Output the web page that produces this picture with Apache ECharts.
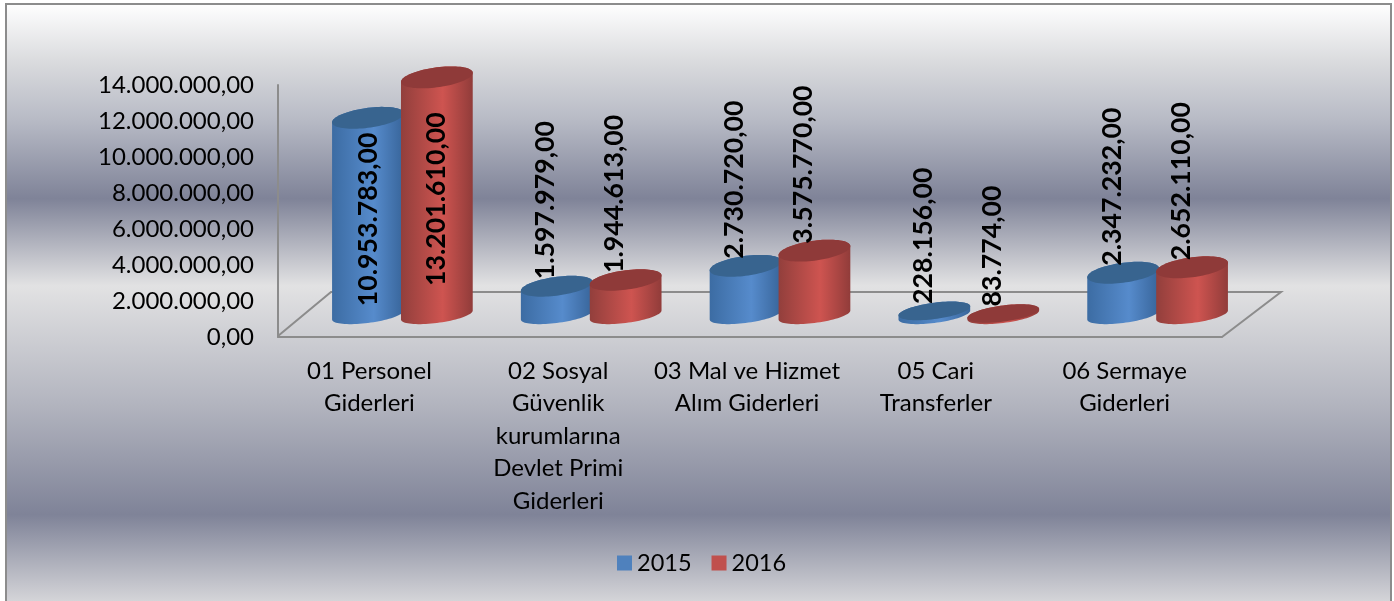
<!DOCTYPE html>
<html>
<head>
<meta charset="utf-8">
<style>
html, body { margin: 0; padding: 0; background: #fff; }
#chart { width: 1394px; height: 601px; }
</style>
<script src="https://cdn.jsdelivr.net/npm/echarts@6/dist/echarts.min.js"></script>
</head>
<body>
<div id="chart"></div>
<script>
var categories = ['01 Personel\nGiderleri', '02 Sosyal\nGüvenlik\nkurumlarına\nDevlet Primi\nGiderleri', '03 Mal ve Hizmet\nAlım Giderleri', '05 Cari\nTransferler', '06 Sermaye\nGiderleri'];
var values2015 = [10953783, 1597979, 2730720, 228156, 2347232];
var values2016 = [13201610, 1944613, 3575770, 83774, 2652110];
var valueLabels2015 = ['10.953.783,00', '1.597.979,00', '2.730.720,00', '228.156,00', '2.347.232,00'];
var valueLabels2016 = ['13.201.610,00', '1.944.613,00', '3.575.770,00', '83.774,00', '2.652.110,00'];
var yMax = 14000000;
var yStep = 2000000;

var fontName = 'Lato';
var chart = echarts.init(document.getElementById('chart'));

function formatTick(v){
	return String(v).replace(/\B(?=(\d{3})+$)/g, '.') + ',00';
}

// sheared ellipse edge, t in radians
function edge(cx, cy, rx, ry, tilt, t){
	return [cx + rx * Math.cos(t), cy + ry * Math.sin(t) - tilt * Math.cos(t)];
}

function sideFill(dark, light, darkRight){
	return new echarts.graphic.LinearGradient(0, 0, 1, 0, [
		{offset: 0, color: dark},
		{offset: 0.58, color: light},
		{offset: 1, color: darkRight}
	]);
}

function cylinderSeries(name, values, labels, side, colors){
	return {
		name: name,
		type: 'custom',
		coordinateSystem: 'cartesian2d',
		xAxisIndex: 1,
		yAxisIndex: 1,
		itemStyle: {color: colors.legend},
		encode: {x: 0, y: 1},
		data: values.map(function(v, i){ return [i, v]; }),
		z: side < 0 ? 3 : 4,
		renderItem: function(params, api){
			var i = api.value(0);
			var base = api.coord([i, 0]);
			var top = api.coord([i, api.value(1)]);
			var band = api.size([1, 0])[0];
			var cx = base[0] + side * band * 0.1825;
			var rx = band * 0.19;
			var tilt = 4.5;
			var h = base[1] - top[1];
			var ryBase = 8;
			var ryTop = Math.min(10, 8 + h / 20);
			var pts = [], t, n = 40;
			for (t = 0; t <= n; t++){
				pts.push(edge(cx, base[1], rx, ryBase, tilt, Math.PI * t / n));
			}
			for (t = 0; t <= n; t++){
				pts.push(edge(cx, top[1], rx, ryTop, tilt, Math.PI + Math.PI * t / n));
			}
			var cap = [];
			for (t = 0; t < n * 2; t++){
				cap.push(edge(cx, top[1], rx, ryTop, tilt, Math.PI * t / n));
			}
			// tall bars carry the label inside, short ones above the top
			var inside = h > 150;
			var lx = inside ? cx : cx - 11;
			var ly = inside ? (base[1] + top[1]) / 2 + 3 : top[1] - 7;
			return {
				type: 'group',
				children: [
					{type: 'polygon', shape: {points: pts}, style: {fill: sideFill(colors.dark, colors.light, colors.darkRight)}},
					{type: 'polygon', shape: {points: cap}, style: {fill: colors.cap}},
					{
						type: 'text',
						x: lx,
						y: ly,
						rotation: Math.PI / 2,
						style: {
							text: labels[i],
							font: 'bold 26.7px ' + fontName,
							fill: '#000',
							align: inside ? 'center' : 'left',
							verticalAlign: 'middle'
						},
						z2: 10
					}
				]
			};
		}
	};
}

var option = {
	animation: false,
	backgroundColor: '#fff',
	textStyle: {fontFamily: fontName},
	graphic: [
		{
			type: 'rect',
			z: -10,
			shape: {x: 6, y: 4, width: 1385, height: 600},
			style: {
				stroke: '#8c8c8c',
				lineWidth: 2,
				fill: new echarts.graphic.LinearGradient(0, 0, 0, 1, [
					{offset: 0, color: '#ffffff'},
					{offset: 0.1, color: '#d9dadd'},
					{offset: 0.195, color: '#b7bac5'},
					{offset: 0.325, color: '#7f8398'},
					{offset: 0.47, color: '#e2e2e3'},
					{offset: 0.66, color: '#b4b6c0'},
					{offset: 0.85, color: '#7f8398'},
					{offset: 1, color: '#d8d8db'}
				])
			}
		},
		{
			type: 'polyline',
			z: 1,
			shape: {points: [[278, 336], [331, 292], [1281, 292], [1222, 337]]},
			style: {stroke: '#8c8c8c', lineWidth: 2, fill: null}
		}
	],
	legend: {
		left: 617,
		top: 551,
		padding: 0,
		itemWidth: 15,
		itemHeight: 15,
		itemGap: 20,
		icon: 'rect',
		data: ['2015', '2016'],
		textStyle: {fontSize: 23.5, fontFamily: fontName, color: '#000'}
	},
	grid: [
		{left: 278, top: 85, width: 944, height: 252},
		{left: 308, top: 63, width: 944, height: 252}
	],
	xAxis: [
		{
			gridIndex: 0,
			type: 'category',
			data: categories,
			axisTick: {show: false},
			axisLine: {lineStyle: {color: '#8c8c8c', width: 2}},
			axisLabel: {interval: 0, margin: 18, fontSize: 24, lineHeight: 32.4, color: '#000', fontFamily: fontName, padding: [0, 6, 0, 0]}
		},
		{
			gridIndex: 1,
			type: 'category',
			data: categories,
			show: false
		}
	],
	yAxis: [
		{
			gridIndex: 0,
			type: 'value',
			min: 0,
			max: yMax,
			interval: yStep,
			splitLine: {show: false},
			axisTick: {show: false},
			axisLine: {show: true, lineStyle: {color: '#8c8c8c', width: 2}},
			axisLabel: {margin: 24, fontSize: 24, color: '#000', fontFamily: fontName, formatter: formatTick}
		},
		{
			gridIndex: 1,
			type: 'value',
			min: 0,
			max: yMax,
			interval: yStep,
			show: false
		}
	],
	series: [
		cylinderSeries('2015', values2015, valueLabels2015, -1, {dark: '#3c6ca3', light: '#568bcc', darkRight: '#38659a', cap: '#38648f', legend: '#4f81bd'}),
		cylinderSeries('2016', values2016, valueLabels2016, 1, {dark: '#923f3c', light: '#ce5450', darkRight: '#913c3a', cap: '#8f3a39', legend: '#c0504d'})
	]
};

chart.setOption(option);
</script>
</body>
</html>
